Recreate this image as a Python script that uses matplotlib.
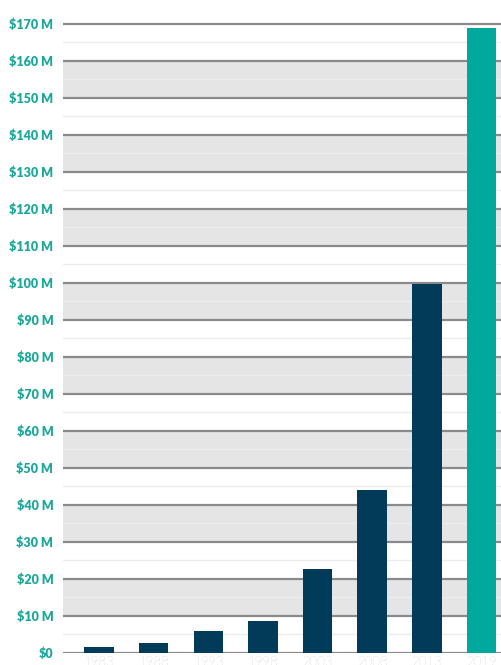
import numpy as np
import matplotlib.pyplot as plt

years = ['1983', '1988', '1993', '1998', '2003', '2008', '2013', '2019']
values = [1.5, 2.6, 5.9, 8.6, 22.7, 44.0, 99.7, 168.8]
bar_colors = ['#023a59'] * 7 + ['#00a99d']

major_ticks = np.arange(0, 171, 10)
tick_labels = ['\\$0'] + ['\\$%d M' % v for v in major_ticks[1:]]

fig = plt.figure(figsize=(5.02, 6.65), dpi=100)
ax = fig.add_axes([63 / 502, 12 / 665, 1 - 63 / 502, 653 / 665])

x = np.arange(len(years))
ax.set_xlim(-0.66, 7.375)
ax.set_ylim(0, 176.4)

# alternating gray bands
for lo in range(10, 170, 20):
    ax.axhspan(lo, lo + 10, color='#e5e5e5', lw=0, zorder=0)
# minor lines at the 5s
for v in np.arange(5, 171, 10):
    ax.axhline(v, color='#ececec', lw=1, zorder=1)
for v in major_ticks:
    ax.axhline(v, color='#8a8a8a', lw=1.6, zorder=1)

ax.bar(x, values, width=0.54, color=bar_colors, zorder=3)

ax.set_yticks(major_ticks)
ax.set_yticklabels(tick_labels, color='#1aa89b', fontweight='heavy', fontsize=9,
                   family='Lato')
ax.set_xticks(x)
ax.set_xticklabels(years, color='#a8a8a8', fontsize=9.5, family='Lato',
                   fontweight='light')
ax.tick_params(axis='y', length=0, pad=7)
ax.tick_params(axis='x', length=0, pad=2)
for s in ax.spines.values():
    s.set_visible(False)

plt.savefig('out.png', dpi=100)
